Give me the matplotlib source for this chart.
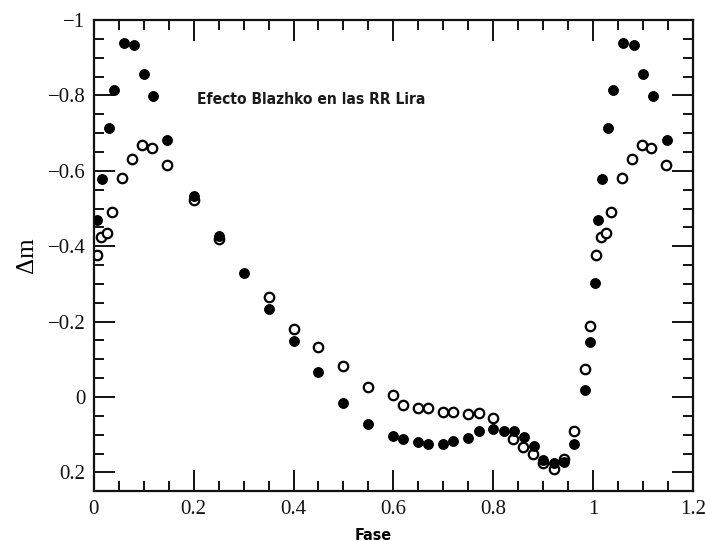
import matplotlib
matplotlib.use("Agg")
import matplotlib.pyplot as plt
from matplotlib.ticker import MultipleLocator, FuncFormatter

# fase y delta m, circulos llenos
fase_llenos = [0.007, 0.017, 0.030, 0.040, 0.060, 0.081, 0.100, 0.119, 0.147,
               0.200, 0.250, 0.300, 0.350, 0.400, 0.450, 0.500, 0.550,
               0.600, 0.620, 0.650, 0.670, 0.700, 0.720, 0.750, 0.771,
               0.800, 0.821, 0.842, 0.861, 0.881, 0.900, 0.921, 0.942,
               0.962, 0.983, 0.993, 1.003,
               1.010, 1.017, 1.030, 1.040, 1.060, 1.081, 1.100, 1.119, 1.147]
dm_llenos = [-0.469, -0.578, -0.714, -0.815, -0.938, -0.933, -0.857, -0.798, -0.682,
             -0.534, -0.426, -0.328, -0.234, -0.149, -0.067, 0.017, 0.072,
             0.103, 0.112, 0.120, 0.124, 0.124, 0.118, 0.108, 0.090,
             0.084, 0.090, 0.090, 0.105, 0.130, 0.168, 0.174, 0.172,
             0.124, -0.018, -0.147, -0.302,
             -0.469, -0.578, -0.714, -0.815, -0.938, -0.933, -0.857, -0.798, -0.682]

# circulos abiertos
fase_abiertos = [0.006, 0.015, 0.026, 0.036, 0.057, 0.077, 0.097, 0.116, 0.146,
                 0.200, 0.250, 0.350, 0.400, 0.450, 0.500, 0.550,
                 0.600, 0.620, 0.650, 0.670, 0.700, 0.720, 0.750, 0.771,
                 0.800, 0.840, 0.860, 0.880, 0.900, 0.921, 0.941,
                 0.962, 0.983, 0.993,
                 1.006, 1.015, 1.026, 1.036, 1.057, 1.077, 1.097, 1.116, 1.146]
dm_abiertos = [-0.376, -0.424, -0.434, -0.490, -0.580, -0.632, -0.668, -0.660, -0.616,
               -0.522, -0.420, -0.264, -0.181, -0.132, -0.081, -0.026,
               -0.004, 0.020, 0.030, 0.030, 0.039, 0.039, 0.044, 0.043,
               0.057, 0.112, 0.134, 0.152, 0.176, 0.190, 0.164,
               0.090, -0.074, -0.187,
               -0.376, -0.424, -0.434, -0.490, -0.580, -0.632, -0.668, -0.660, -0.616]

titulo = "Efecto Blazhko en las RR Lira"

plt.rcParams['font.family'] = ['Liberation Serif', 'DejaVu Serif']


def fmt(v, pos):
    s = "%g" % round(v, 3)
    if s == "-0":
        s = "0"
    return s.replace("-", "\u2212")


fig = plt.figure(figsize=(7.05, 5.41), dpi=100)
ax = fig.add_axes([0.133, 0.092, 0.850, 0.871])

ax.plot(fase_abiertos, dm_abiertos, 'o', ms=6.8, mfc='white', mec='black', mew=1.6, ls='none')
ax.plot(fase_llenos, dm_llenos, 'o', ms=6.8, mfc='black', mec='black', ls='none')

ax.set_xlim(0, 1.2)
ax.set_ylim(0.25, -1)

ax.xaxis.set_major_locator(MultipleLocator(0.2))
ax.xaxis.set_minor_locator(MultipleLocator(0.05))
ax.yaxis.set_major_locator(MultipleLocator(0.2))
ax.yaxis.set_minor_locator(MultipleLocator(0.05))
ax.xaxis.set_major_formatter(FuncFormatter(fmt))
ax.yaxis.set_major_formatter(FuncFormatter(fmt))

ax.tick_params(which='both', direction='in', top=True, right=True, width=1.4, colors='#111111')
ax.tick_params(which='major', length=15, labelsize=15, pad=6)
ax.tick_params(which='minor', length=7)
for s in ax.spines.values():
    s.set_linewidth(1.6)
    s.set_color('#111111')

ax.set_xlabel("Fase", family='DejaVu Sans', fontstretch='condensed', fontsize=11.5,
              fontweight='bold')
ax.xaxis.set_label_coords(0.467, -0.077)
ax.set_ylabel("\u0394m", fontsize=18, labelpad=7)

ax.text(0.206, -0.79, titulo, family='DejaVu Sans', fontstretch='condensed',
        fontsize=11.2, fontweight='bold', color='#1a1a1a', va='center', ha='left')

fig.savefig("out.png", dpi=100, facecolor='white')
